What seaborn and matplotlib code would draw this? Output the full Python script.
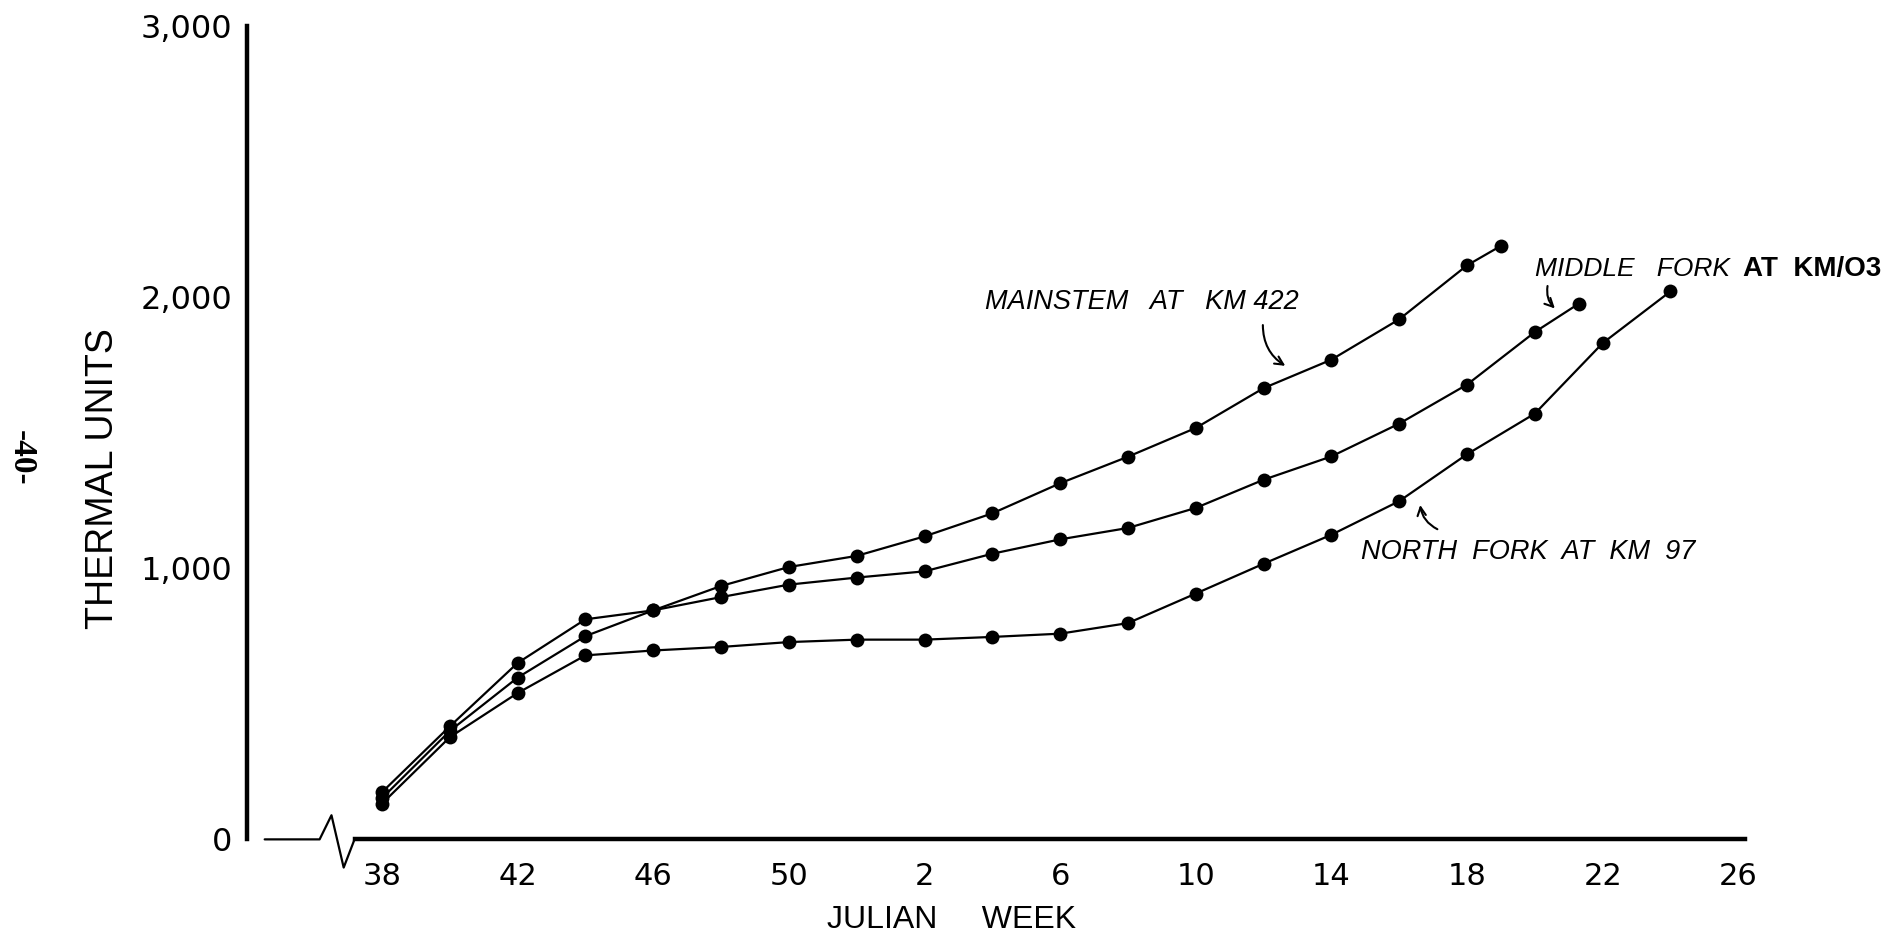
import pandas as pd
import matplotlib
matplotlib.use("Agg")
import matplotlib.pyplot as plt
import seaborn as sns

# Julian weeks (season runs from week 38 through week 26 of the next year)
mainstem_weeks = [38, 40, 42, 44, 46, 48, 50, 52, 2, 4, 6, 8, 10, 12, 14, 16, 18, 19]
mainstem_units = [152, 400, 597, 750, 845, 935, 1005, 1046, 1118, 1203, 1314, 1412,
                  1518, 1665, 1770, 1919, 2118, 2190]

middle_weeks = [38, 40, 42, 44, 46, 48, 50, 52, 2, 4, 6, 8, 10, 12, 14, 16, 18, 20, 21.3]
middle_units = [174, 417, 651, 812, 845, 894, 940, 966, 989, 1054, 1107, 1149, 1223,
                1327, 1413, 1534, 1678, 1872, 1977]

north_weeks = [38, 40, 42, 44, 46, 48, 50, 52, 2, 4, 6, 8, 10, 12, 14, 16, 18, 20, 22, 24]
north_units = [132, 377, 540, 679, 697, 710, 728, 737, 737, 747, 759, 798, 907, 1017,
               1124, 1248, 1421, 1571, 1831, 2022]

tick_weeks = [38, 42, 46, 50, 2, 6, 10, 14, 18, 22, 26]
y_ticks = [0, 1000, 2000, 3000]
y_tick_labels = ["0", "1,000", "2,000", "3,000"]


def week_pos(w):
    # weeks after new year continue on from week 52
    return w - 38 if w >= 38 else w + 14


frames = []
for name, weeks, units in [("mainstem", mainstem_weeks, mainstem_units),
                           ("middle", middle_weeks, middle_units),
                           ("north", north_weeks, north_units)]:
    frames.append(pd.DataFrame({"t": [week_pos(w) for w in weeks],
                                "units": units, "site": name}))
df = pd.concat(frames, ignore_index=True)

sns.set_style("white")
plt.rcParams["font.family"] = ["DejaVu Sans"]
for key in ["text.color", "axes.edgecolor", "axes.labelcolor", "xtick.color", "ytick.color"]:
    plt.rcParams[key] = "black"

fig = plt.figure(figsize=(19.03, 9.41), dpi=100)
ax = fig.add_axes([0.130, 0.108, 0.787, 0.864])

sns.lineplot(data=df, x="t", y="units", hue="site", style="site",
             palette={"mainstem": "black", "middle": "black", "north": "black"},
             markers={"mainstem": "o", "middle": "o", "north": "o"},
             dashes=False, sort=False, legend=False, ax=ax,
             linewidth=1.6, markersize=10, markeredgewidth=0)

ax.set_xlim(-3.97, 40.2)
ax.set_ylim(0, 3000)

for s in ["top", "right"]:
    ax.spines[s].set_visible(False)
ax.spines["left"].set_linewidth(3.2)
ax.spines["bottom"].set_linewidth(3.2)
ax.spines["bottom"].set_bounds(-0.81, 40.2)

# axis break on the week axis
ax.plot([-3.46, -1.84, -1.49, -1.13, -0.81], [0, 0, 89, -104, 0],
        color="black", lw=1.6, clip_on=False)

ax.set_xticks([week_pos(w) for w in tick_weeks])
ax.set_xticklabels([str(w) for w in tick_weeks], fontsize=22)
ax.tick_params(axis="x", direction="out", length=10, width=2, pad=6)
ax.set_yticks(y_ticks)
ax.set_yticklabels(y_tick_labels, fontsize=23)
ax.tick_params(axis="y", length=0, pad=11)
ax.set_xlabel("")
ax.set_ylabel("")

fig.text(0.500, 0.022, "JULIAN     WEEK", fontsize=23, ha="center", va="center",
         family=["Liberation Sans", "DejaVu Sans"])
fig.text(0.054, 0.491, "THERMAL UNITS", fontsize=27, rotation=90, ha="center",
         va="center", family=["Liberation Sans", "DejaVu Sans"])
fig.text(0.0114, 0.513, "-40-", fontsize=24, weight="bold", rotation=270,
         ha="center", va="center", family=["Liberation Serif", "DejaVu Serif"])

lab = dict(fontsize=19.5, style="italic", va="center",
           family=["Liberation Sans", "DejaVu Sans"])
arrow = dict(arrowstyle="->,head_length=0.6,head_width=0.3", color="black", lw=1.5)

ax.text(17.78, 1982, "MAINSTEM   AT   KM 422", **lab)
ax.annotate("", xy=(26.71, 1742), xytext=(25.98, 1908),
            arrowprops=dict(connectionstyle="arc3,rad=0.3", **arrow))

ax.text(34.0, 2103, "MIDDLE   FORK", clip_on=False,
        **{**lab, "fontsize": 19})
ax.text(40.15, 2103, "AT  KM/O3", fontsize=20, weight="bold", va="center",
        family=["Liberation Sans", "DejaVu Sans"], clip_on=False)
ax.annotate("", xy=(34.65, 1952), xytext=(34.39, 2052),
            arrowprops=dict(connectionstyle="arc3,rad=0.3", **arrow))

ax.text(28.88, 1059, "NORTH  FORK  AT  KM  97", **lab)
ax.annotate("", xy=(30.61, 1244), xytext=(31.2, 1140),
            arrowprops=dict(connectionstyle="arc3,rad=-0.3", **arrow))

fig.savefig("out.png", dpi=100)
